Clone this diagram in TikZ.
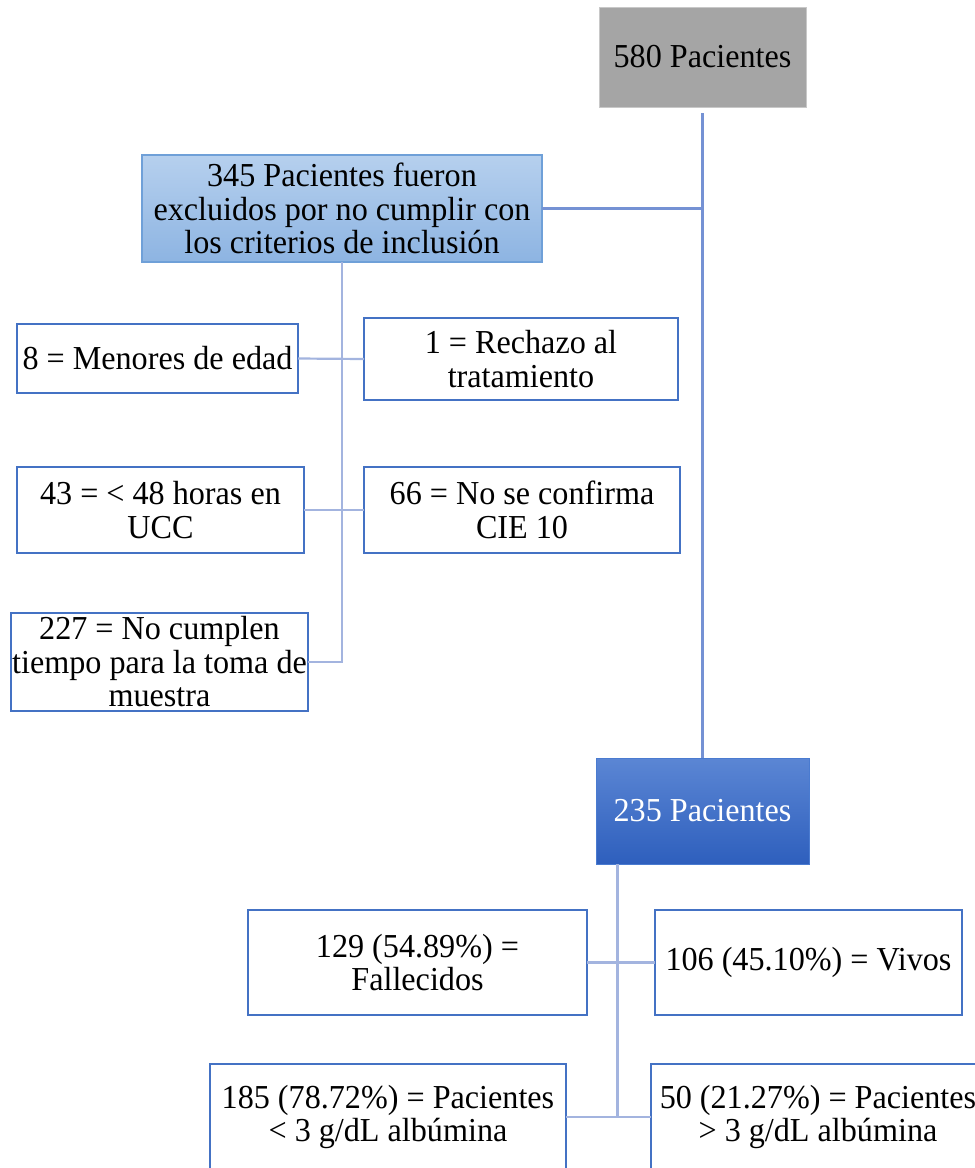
\documentclass[tikz,border=0pt]{standalone}
\usepackage{fontspec}
\setmainfont{Liberation Serif}[FakeStretch=0.96]
\definecolor{boxblue}{HTML}{4472C4}
\definecolor{mainline}{HTML}{7592D4}
\definecolor{subline}{HTML}{A3B4DF}
\definecolor{grayfill}{HTML}{A5A5A5}
\definecolor{grayborder}{HTML}{C8C8C8}
\definecolor{lbtop}{HTML}{B6D0EE}
\definecolor{lbbot}{HTML}{8DB4E2}
\definecolor{lbborder}{HTML}{6FA0D8}
\definecolor{dbtop}{HTML}{5B86D4}
\definecolor{dbbot}{HTML}{2E5FBD}
\definecolor{dbborder}{HTML}{4A7BD0}
\begin{document}
\begin{tikzpicture}[x=1pt,y=-1pt,
  every node/.style={font=\fontsize{33.5}{33.5}\selectfont, align=center, inner sep=0pt, outer sep=0pt},
  wbox/.style={draw=boxblue, line width=2.4pt, fill=white},
  graybox/.style={draw=grayborder, line width=1pt, fill=grayfill},
  lightbox/.style={draw=lbborder, line width=1.5pt, top color=lbtop, bottom color=lbbot},
  darkbox/.style={draw=dbborder, line width=1pt, top color=dbtop, bottom color=dbbot, text=white},
  mainconn/.style={draw=mainline, line width=2.2pt},
  subconn/.style={draw=subline, line width=2.2pt}
]
\useasboundingbox (0,0) rectangle (975,1168);

% nodes
\node[graybox, minimum width=207pt, minimum height=100pt] (b580) at (702.5,57) {580 Pacientes};
\node[lightbox, minimum width=400pt, minimum height=107pt] (b345) at (342,208.5) {345 Pacientes fueron\\excluidos por no cumplir con\\los criterios de inclusión};
\node[wbox, minimum width=281pt, minimum height=69pt] (b8) at (157.5,358.5) {8 = Menores de edad};
\node[wbox, minimum width=314pt, minimum height=82pt] (b1) at (521,359) {1 = Rechazo al\\tratamiento};
\node[wbox, minimum width=287pt, minimum height=86pt] (b43) at (160.5,510) {43 = < 48 horas en\\UCC};
\node[wbox, minimum width=316pt, minimum height=86pt] (b66) at (522,510) {66 = No se confirma\\CIE 10};
\node[wbox, minimum width=297pt, minimum height=98pt] (b227) at (159.5,662) {227 = No cumplen\\tiempo para la toma de\\muestra};
\node[darkbox, minimum width=213pt, minimum height=106pt] (b235) at (702.5,811) {235 Pacientes};
\node[wbox, minimum width=339pt, minimum height=105pt] (b129) at (417.5,962.5) {129 (54.89\%) =\\Fallecidos};
\node[wbox, minimum width=307pt, minimum height=105pt] (b106) at (808.5,962.5) {106 (45.10\%) = Vivos};
\node[wbox, minimum width=356pt, minimum height=106pt] (b185) at (388,1117) {185 (78.72\%) = Pacientes\\< 3 g/dL albúmina};
\node[wbox, minimum width=334pt, minimum height=106pt] (b50) at (818,1117) {50 (21.27\%) = Pacientes\\> 3 g/dL albúmina};

% coordinates
\coordinate (mtop) at (702.5,113);
\coordinate (j345) at (702.5,208.5);
\coordinate (c227) at (342,662);
\coordinate (s235) at (617.5,864);
\coordinate (e235) at (617.5,1117);

% connectors
\draw[mainconn] (mtop) -- (b235.north);
\draw[mainconn] (b345.east) -- (j345);
\draw[subconn] (b345.south) -- (c227) -- (b227.east);
\draw[subconn] (b8.east) -- (b1.west);
\draw[subconn] (b43.east) -- (b66.west);
\draw[subconn] (s235) -- (e235);
\draw[subconn] (b129.east) -- (b106.west);
\draw[subconn] (b185.east) -- (b50.west);
\end{tikzpicture}
\end{document}
